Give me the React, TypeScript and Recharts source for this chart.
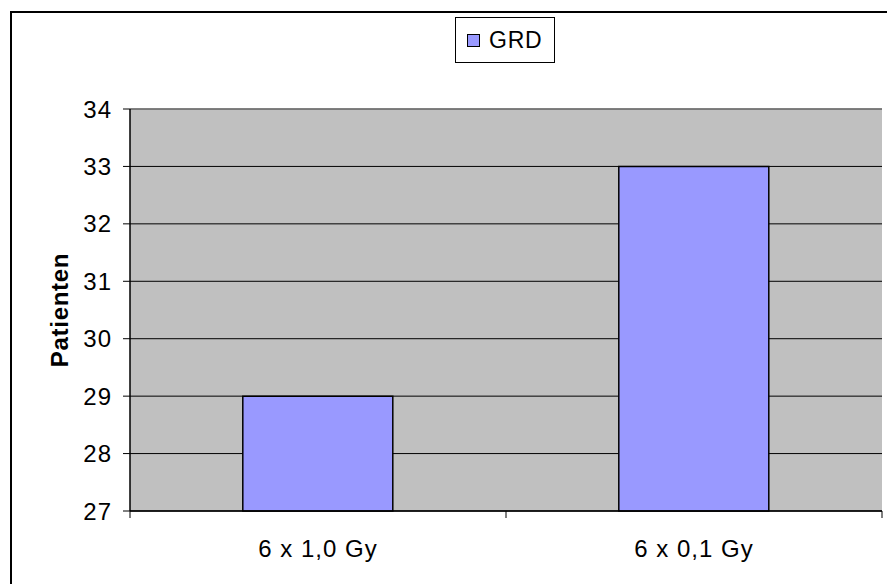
import React from 'react';
import { BarChart, Bar, XAxis, YAxis, CartesianGrid, ReferenceLine, Legend } from 'recharts';

const categories = ['6 x 1,0 Gy', '6 x 0,1 Gy'];
const grdValues = [29, 33];
const yTicks = [27, 28, 29, 30, 31, 32, 33, 34];
const seriesName = 'GRD';
const yLabel = 'Patienten';

const data = categories.map((c, i) => ({ name: c, GRD: grdValues[i] }));

const FONT = '"Liberation Sans", Arial, sans-serif';
const BAR_COLOR = '#9999FF';
const X_TICK_MARGIN = 29;

const LegendBox = () => (
  <div
    style={{
      width: 100,
      height: 46,
      border: '1px solid #000',
      boxSizing: 'border-box',
      background: '#fff',
      display: 'flex',
      alignItems: 'center',
      paddingLeft: 11,
      fontFamily: FONT,
    }}
  >
    <div
      style={{
        width: 13,
        height: 13,
        border: '1px solid #000',
        boxSizing: 'border-box',
        background: BAR_COLOR,
        marginRight: 9,
      }}
    />
    <span style={{ fontSize: 23, color: '#000', lineHeight: 1, letterSpacing: 0.8 }}>{seriesName}</span>
  </div>
);

const XTick = (props: any) => {
  const { x, y, payload, visibleTicksCount } = props;
  const off = payload?.offset ?? 0;
  const axisY = y - X_TICK_MARGIN;
  const isLast = payload.index === (visibleTicksCount ?? categories.length) - 1;
  return (
    <g>
      <line x1={x - off} x2={x - off} y1={axisY} y2={axisY + 7} stroke="#000" strokeWidth={1} />
      {isLast && <line x1={x + off} x2={x + off} y1={axisY} y2={axisY + 7} stroke="#000" strokeWidth={1} />}
      <text
        x={x}
        y={y}
        dy="0.71em"
        textAnchor="middle"
        fontSize={24}
        fill="#000"
        fontFamily={FONT}
        letterSpacing={1}
      >
        {payload.value}
      </text>
    </g>
  );
};

export default function App() {
  return (
    <div style={{ position: 'relative', width: 887, height: 584, background: '#fff', overflow: 'hidden' }}>
      <style>{'body{margin:0;overflow:hidden;}'}</style>
      <div
        style={{
          position: 'absolute',
          left: 10,
          top: 11,
          width: 900,
          height: 600,
          borderLeft: '2px solid #000',
          borderTop: '2px solid #000',
        }}
      />
      <div style={{ position: 'absolute', left: 0, top: 0 }}>
        <BarChart
          width={887}
          height={584}
          data={data}
          margin={{ top: 109, right: 5, bottom: 0, left: 0 }}
          barCategoryGap="30%"
        >
          <CartesianGrid vertical={false} fill="#C0C0C0" fillOpacity={1} stroke="#000" strokeWidth={1} />
          <XAxis
            dataKey="name"
            tickLine={false}
            tickSize={0}
            tickMargin={X_TICK_MARGIN}
            axisLine={{ stroke: '#000', strokeWidth: 1.5 }}
            tick={<XTick />}
            height={73}
            interval={0}
          />
          <YAxis
            domain={[27, 34]}
            ticks={yTicks}
            interval={0}
            width={130}
            tickSize={7}
            tickMargin={11}
            axisLine={{ stroke: '#000', strokeWidth: 1.5 }}
            tickLine={{ stroke: '#000', strokeWidth: 1 }}
            tick={{ fontSize: 24, fill: '#000', fontFamily: FONT, letterSpacing: 1 }}
            label={{
              value: yLabel,
              angle: -90,
              position: 'center',
              dx: -6,
              style: { fontSize: 24, fontWeight: 'bold', fill: '#000', fontFamily: FONT, letterSpacing: 0.7 },
            }}
          />
          <YAxis
            yAxisId="right"
            orientation="right"
            width={0}
            tick={false}
            tickLine={false}
            axisLine={{ stroke: '#808080', strokeWidth: 1.5 }}
          />
          <ReferenceLine y={34} stroke="#808080" strokeWidth={1.5} />
          <Legend
            layout="horizontal"
            verticalAlign="middle"
            align="center"
            content={() => <LegendBox />}
            wrapperStyle={{ left: 455, top: 17, width: 100, height: 46 }}
          />
          <Bar
            dataKey="GRD"
            name={seriesName}
            fill={BAR_COLOR}
            stroke="#000"
            strokeWidth={1.5}
            isAnimationActive={false}
          />
        </BarChart>
      </div>
    </div>
  );
}
